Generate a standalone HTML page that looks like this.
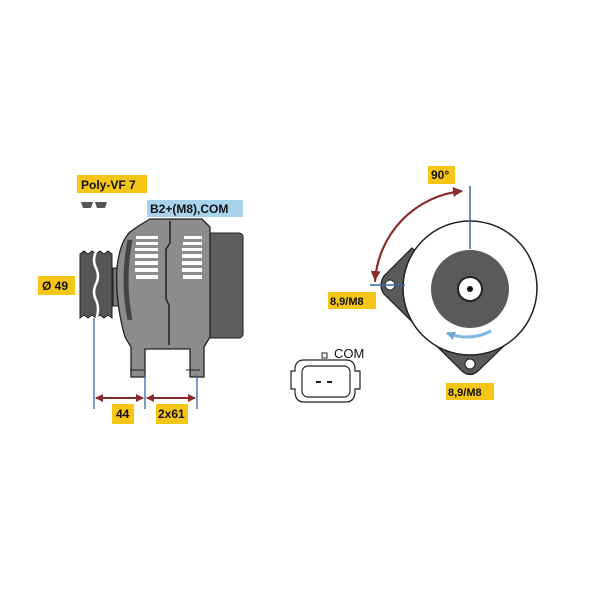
<!DOCTYPE html>
<html><head><style>
html,body{margin:0;padding:0;background:#fff;width:600px;height:600px;overflow:hidden}
svg{display:block}
text{font-family:"Liberation Sans",sans-serif;font-weight:bold;font-size:12px;fill:#111}
</style></head><body>
<svg width="600" height="600" viewBox="0 0 600 600">
<defs>
<marker id="ar" markerWidth="8" markerHeight="8" refX="7" refY="4" orient="auto" markerUnits="userSpaceOnUse"><path d="M0,0 L8,4 L0,8 z" fill="#8b2a2a"/></marker>
<marker id="ar2" markerWidth="10" markerHeight="10" refX="9" refY="5" orient="auto" markerUnits="userSpaceOnUse"><path d="M0,0 L10,5 L0,10 z" fill="#8b2a2a"/></marker>
<marker id="ab" markerWidth="9" markerHeight="9" refX="8" refY="4.5" orient="auto" markerUnits="userSpaceOnUse"><path d="M0,0 L9,4.5 L0,9 z" fill="#6fa8dc"/></marker>
</defs>

<rect x="77" y="175" width="70" height="18" fill="#f5c518"/>
<text x="81" y="189">Poly-VF 7</text>
<path d="M81,202 h12 l-2,6 h-8z M95,202 h12 l-2,6 h-8z" fill="#555"/>
<rect x="147" y="200" width="96" height="17" fill="#a9d3ec"/>
<text x="150" y="213">B2+(M8),COM</text>
<rect x="38" y="276" width="37" height="19" fill="#f5c518"/>
<text x="42" y="290">Ø 49</text>

<path d="M80,254 l4,-3 l4,3 l4,-3 l4,3 l4,-3 l4,3 l4,-3 l4,3 v64 l-4,-3 l-4,3 l-4,-3 l-4,3 l-4,-3 l-4,3 l-4,-3 l-4,3z" fill="#555" stroke="#222" stroke-width="1"/>
<path d="M96,252 q-4,8 0,16 q4,8 0,16 q-4,8 0,16 q4,8 0,20" fill="none" stroke="#fff" stroke-width="2.5"/>
<rect x="113" y="268" width="6" height="38" fill="#777" stroke="#222"/>
<rect x="200" y="233" width="43" height="105" rx="4" fill="#5e5e5e" stroke="#222"/>
<path d="M140,225 l10,-6 h52 l8,8 v110 l-6,10 v30 h-14 v-28 h-45 v28 h-14 v-30 l-6,-10 q-10,-35 -8,-70 q3,-25 13,-35z" fill="#8c8c8c" stroke="#222" stroke-width="1.3"/>
<path d="M130,240 q-8,40 0,80" fill="none" stroke="#444" stroke-width="5"/>
<path d="M170,221 v22 l-4,6 v50 l3,6 v40" fill="none" stroke="#222" stroke-width="1.5"/>
<g fill="#fff">
<rect x="136" y="236" width="22" height="3"/><rect x="136" y="242" width="22" height="3"/><rect x="135" y="248" width="23" height="3"/><rect x="135" y="254" width="23" height="4"/><rect x="135" y="261" width="23" height="4"/><rect x="135" y="268" width="23" height="4"/><rect x="136" y="275" width="22" height="4"/>
<rect x="184" y="236" width="18" height="3"/><rect x="183" y="242" width="19" height="3"/><rect x="182" y="248" width="20" height="3"/><rect x="182" y="254" width="20" height="4"/><rect x="182" y="261" width="20" height="4"/><rect x="182" y="268" width="20" height="4"/><rect x="183" y="275" width="19" height="4"/>
</g>
<line x1="130" y1="370" x2="144" y2="370" stroke="#222"/><line x1="186" y1="370" x2="200" y2="370" stroke="#222"/>

<g stroke="#3a64a8" stroke-width="1.3">
<line x1="94" y1="318" x2="94" y2="409"/><line x1="145" y1="375" x2="145" y2="409"/><line x1="197" y1="375" x2="197" y2="409"/>
</g>
<g stroke="#8b2a2a" stroke-width="2">
<line x1="96" y1="398" x2="143" y2="398" marker-end="url(#ar)"/>
<line x1="143" y1="398" x2="96" y2="398" marker-end="url(#ar)"/>
<line x1="147" y1="398" x2="195" y2="398" marker-end="url(#ar)"/>
<line x1="195" y1="398" x2="147" y2="398" marker-end="url(#ar)"/>
</g>
<rect x="112" y="404" width="22" height="20" fill="#f5c518"/><text x="116" y="418">44</text>
<rect x="156" y="404" width="32" height="20" fill="#f5c518"/><text x="158" y="418">2x61</text>

<!-- right view bracket -->
<path d="M412,248 L384,276 Q378,286 384,294 L462,371 Q470,378 478,371 L510,340 Z" fill="#5a5a5a" stroke="#222" stroke-width="1.3"/>
<circle cx="470" cy="288" r="67" fill="#fff" stroke="#222" stroke-width="1.5"/>
<circle cx="470" cy="289" r="39" fill="#5a5a5a"/>
<circle cx="470" cy="289" r="12" fill="#fff" stroke="#222" stroke-width="2"/>
<circle cx="470" cy="289" r="3" fill="#111"/>
<circle cx="390" cy="285" r="5" fill="#fff" stroke="#222"/>
<circle cx="470" cy="364" r="5" fill="#fff" stroke="#222"/>
<path d="M491,331 Q470,342 447,333" fill="none" stroke="#7fb6e3" stroke-width="3" marker-end="url(#ab)"/>
<line x1="470" y1="186" x2="470" y2="249" stroke="#3a64a8" stroke-width="1.5"/>
<line x1="370" y1="285" x2="405" y2="285" stroke="#3a64a8" stroke-width="1.5"/>
<path d="M375,282 A97,97 0 0 1 462,191" fill="none" stroke="#8b2a2a" stroke-width="2" marker-end="url(#ar2)"/>
<path d="M462,191 A97,97 0 0 0 375,280" fill="none" stroke="#8b2a2a" stroke-width="2" marker-end="url(#ar2)"/>
<rect x="428" y="166" width="27" height="18" fill="#f5c518"/><text x="431" y="179">90°</text>
<rect x="328" y="292" width="48" height="17" fill="#f5c518"/><text x="330" y="305" style="font-size:11px">8,9/M8</text>
<rect x="446" y="383" width="48" height="17" fill="#f5c518"/><text x="448" y="396" style="font-size:11px">8,9/M8</text>

<text x="334" y="358" style="font-weight:normal;font-size:13px">COM</text>
<rect x="322" y="353" width="5" height="5" fill="#fff" stroke="#222"/>
<path d="M304,360 h42 q8,0 9,8 v3 h5 v18 h-5 v4 q-1,9 -9,9 h-42 q-8,0 -9,-9 v-4 h-4 v-18 h4 v-3 q1,-8 9,-8z" fill="#fff" stroke="#222" stroke-width="1.2"/>
<rect x="302" y="366" width="48" height="31" rx="6" fill="#fff" stroke="#222" stroke-width="1.2"/>
<rect x="316" y="381" width="5" height="2" fill="#222"/><rect x="327" y="381" width="5" height="2" fill="#222"/>
</svg>
</body></html>
